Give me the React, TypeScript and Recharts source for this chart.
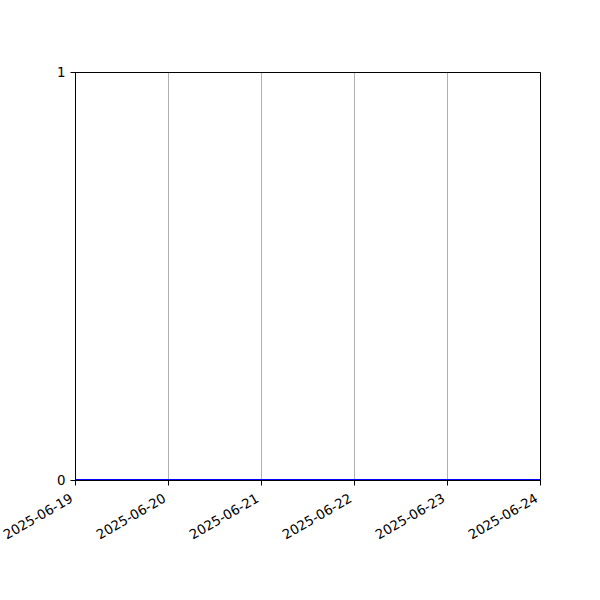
import React from "react";
import { LineChart, Line, XAxis, YAxis, CartesianGrid, ReferenceArea } from "recharts";

const dates = ["2025-06-19", "2025-06-20", "2025-06-21", "2025-06-22", "2025-06-23", "2025-06-24"];
const values = [0, 0, 0, 0, 0, 0];
const yTicks = [0, 1];

const data = dates.map((d, i) => ({ date: d, value: values[i] }));

const FONT = "'DejaVu Sans', sans-serif";

const XTick = (props: any) => {
  const { x, y, payload } = props;
  return (
    <g transform={`translate(${x - 1.6},${y + 15.6}) rotate(-30)`}>
      <text x={0} y={0} textAnchor="end" fontFamily={FONT} fontSize={13.33} fill="#000">
        {payload.value}
      </text>
    </g>
  );
};

export default function App() {
  return (
    <div style={{ position: "absolute", left: 0, top: 0, width: 600, height: 600, background: "#fff" }}>
      <LineChart width={600} height={600} data={data} margin={{ top: 72.5, right: 59.5, bottom: 0, left: 0.5 }}>
        <CartesianGrid horizontal={false} vertical={true} stroke="#b0b0b0" strokeWidth={1} />
        <XAxis
          dataKey="date"
          height={119.5}
          interval={0}
          tickSize={5}
          tickMargin={0}
          tick={<XTick />}
          axisLine={{ stroke: "#000", strokeWidth: 1 }}
          tickLine={{ stroke: "#000", strokeWidth: 1 }}
        />
        <YAxis
          width={75}
          domain={[0, 1]}
          ticks={yTicks}
          allowDataOverflow
          tickSize={5}
          tickMargin={5}
          tick={{ fontFamily: FONT, fontSize: 13.33, fill: "#000" }}
          axisLine={{ stroke: "#000", strokeWidth: 1 }}
          tickLine={{ stroke: "#000", strokeWidth: 1 }}
        />
        <Line
          dataKey="value"
          stroke="#0000ff"
          strokeWidth={3}
          dot={false}
          isAnimationActive={false}
        />
        <ReferenceArea
          x1={dates[0]}
          x2={dates[dates.length - 1]}
          y1={0}
          y2={1}
          fill="none"
          fillOpacity={0}
          stroke="#000"
          strokeWidth={1}
        />
      </LineChart>
    </div>
  );
}
